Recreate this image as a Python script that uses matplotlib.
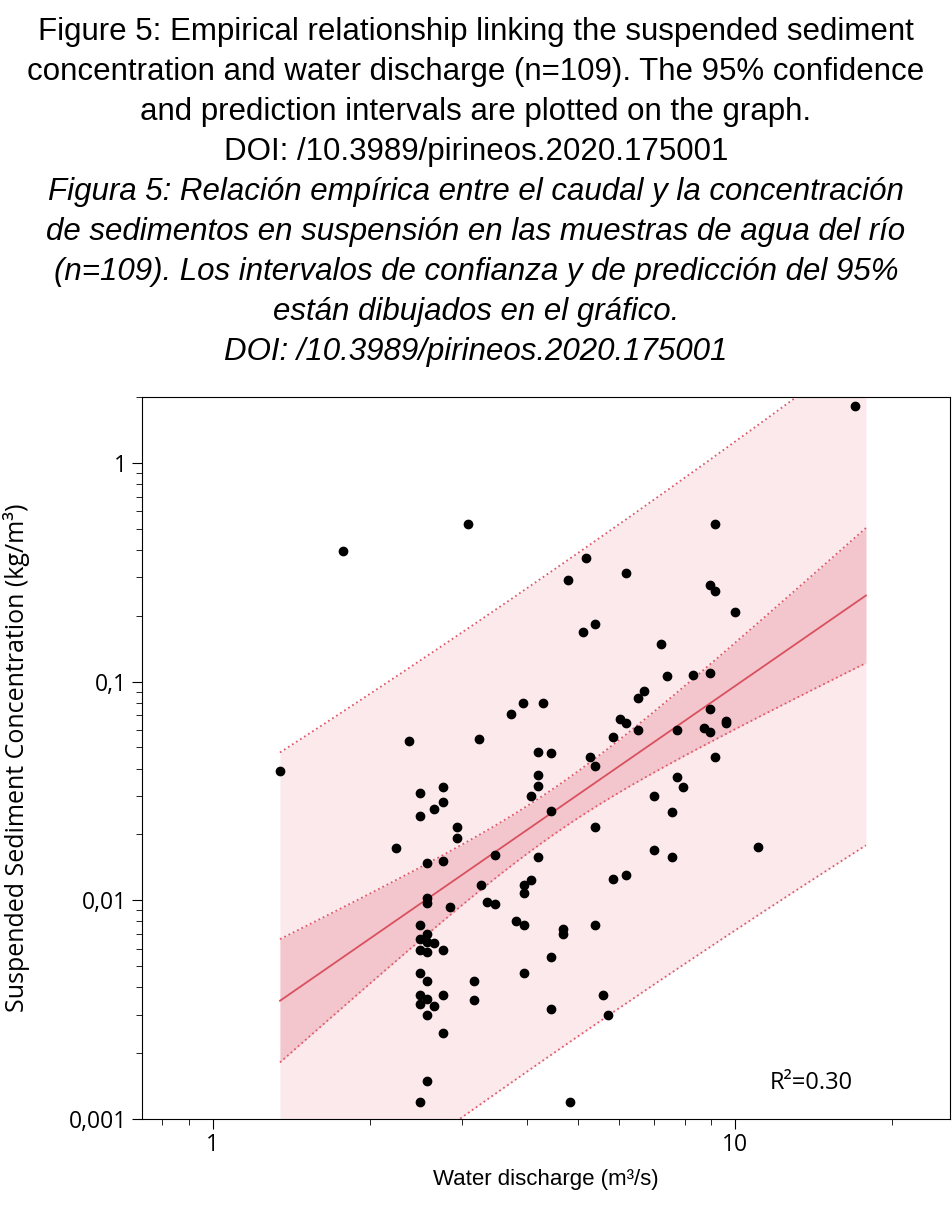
import numpy as np
import matplotlib
matplotlib.use("Agg")
import matplotlib.pyplot as plt
from matplotlib.ticker import FixedLocator, FixedFormatter, NullFormatter, LogLocator

# discharge (m3/s) and suspended sediment concentration (kg/m3)
discharge = [
    2.374, 3.233, 4.195, 4.443, 5.275, 5.392, 5.839, 4.195, 4.195, 4.067,
    4.443, 2.493, 2.758, 2.758, 2.651, 2.493, 2.934, 2.934, 2.242, 2.570,
    2.758, 3.470, 4.195, 5.392, 5.839, 6.184, 3.262, 3.943, 4.067, 3.943,
    2.570, 2.570, 2.844, 3.349, 3.470, 3.806, 3.943, 4.683, 4.683, 5.392,
    2.493, 2.570, 2.493, 2.570, 2.651, 2.493, 2.570, 2.758, 4.443, 2.493,
    2.570, 3.162, 3.943, 2.493, 2.570, 2.758, 2.651, 2.493, 2.570, 3.162,
    4.443, 5.586, 5.711, 2.758, 2.570, 2.493, 4.830,
    1.344, 1.774, 3.080, 3.724, 3.925, 4.289,
    5.183, 4.786, 6.184, 8.957, 9.157, 10.0, 5.114, 5.392, 7.216, 7.405,
    8.307, 8.957, 6.695, 6.520, 8.957, 6.022, 6.184, 6.520, 7.740, 8.720,
    8.957, 9.612, 9.612, 9.157, 7.740, 7.948, 6.997, 7.570, 6.997, 7.570,
    11.07, 16.98, 9.157,
]
ssc = [
    0.0534, 0.0546, 0.0476, 0.0471, 0.0451, 0.0410, 0.0557, 0.0373, 0.0333, 0.0299,
    0.0255, 0.0309, 0.0329, 0.0281, 0.0261, 0.0242, 0.0216, 0.0192, 0.0173, 0.0148,
    0.0151, 0.0161, 0.0157, 0.0216, 0.0125, 0.0130, 0.0118, 0.0118, 0.0124, 0.0108,
    0.0102, 0.00969, 0.00929, 0.00979, 0.00959, 0.00802, 0.00769, 0.00737, 0.00699, 0.00769,
    0.00769, 0.00699, 0.00663, 0.00643, 0.00636, 0.00590, 0.00578, 0.00590, 0.00548, 0.00463,
    0.00426, 0.00426, 0.00463, 0.00367, 0.00352, 0.00367, 0.00327, 0.00334, 0.00298, 0.00348,
    0.00317, 0.00367, 0.00298, 0.00246, 0.00149, 0.00119, 0.00119,
    0.0389, 0.396, 0.526, 0.0710, 0.0798, 0.0798,
    0.367, 0.292, 0.314, 0.277, 0.260, 0.208, 0.169, 0.183, 0.149, 0.106,
    0.107, 0.109, 0.0905, 0.0840, 0.0748, 0.0673, 0.0646, 0.060, 0.060, 0.0612,
    0.0587, 0.0659, 0.0646, 0.0451, 0.0366, 0.0329, 0.0299, 0.0253, 0.0169, 0.0157,
    0.0175, 1.82, 0.526,
]

# fitted power law (log10 space) and interval parameters
slope = 1.652
intercept = -2.672
mean_logx = 0.66
sxx = 5.0
n_obs = 109
ts = 1.10
x_range = (1.344, 17.8)

title_en = [
    "Figure 5: Empirical relationship linking the suspended sediment",
    "concentration and water discharge (n=109). The 95% confidence",
    "and prediction intervals are plotted on the graph.",
    "DOI: /10.3989/pirineos.2020.175001",
]
title_es = [
    "Figura 5: Relación empírica entre el caudal y la concentración",
    "de sedimentos en suspensión en las muestras de agua del río",
    "(n=109). Los intervalos de confianza y de predicción del 95%",
    "están dibujados en el gráfico.",
    "DOI: /10.3989/pirineos.2020.175001",
]

lx = np.linspace(np.log10(x_range[0]), np.log10(x_range[1]), 200)
fit = intercept + slope * lx
lev = 1.0 / n_obs + (lx - mean_logx) ** 2 / sxx
ci = ts * np.sqrt(lev)
pi = ts * np.sqrt(1 + lev)
xs = 10 ** lx

fig = plt.figure(figsize=(9.52, 12.07), dpi=100)
ax = fig.add_axes([0.149, 0.073, 0.849, 0.598])

ax.fill_between(xs, 10 ** (fit - pi), 10 ** (fit + pi), color="#fbe9ec", lw=0)
ax.fill_between(xs, 10 ** (fit - ci), 10 ** (fit + ci), color="#f3c6cd", lw=0)
for sign in (-1, 1):
    ax.plot(xs, 10 ** (fit + sign * pi), ":", color="#e05a6a", lw=1.3)
    ax.plot(xs, 10 ** (fit + sign * ci), ":", color="#e05a6a", lw=1.3)
ax.plot(xs, 10 ** fit, color="#d9505e", lw=1.3)
ax.scatter(discharge, ssc, s=36, color="black", zorder=5)

ax.set_xscale("log")
ax.set_yscale("log")
ax.set_xlim(0.731, 25.8)
ax.set_ylim(0.001, 2.0)

ax.xaxis.set_major_locator(FixedLocator([1, 10]))
ax.xaxis.set_major_formatter(FixedFormatter(["1", "10"]))
ax.xaxis.set_minor_locator(LogLocator(subs=np.arange(2, 10)))
ax.xaxis.set_minor_formatter(NullFormatter())
ax.yaxis.set_major_locator(FixedLocator([0.001, 0.01, 0.1, 1]))
ax.yaxis.set_major_formatter(FixedFormatter(["0,001", "0,01", "0,1", "1"]))
ax.yaxis.set_minor_locator(LogLocator(subs=np.arange(2, 10)))
ax.yaxis.set_minor_formatter(NullFormatter())
ax.tick_params(which="major", length=7, labelsize=16.5)
ax.tick_params(which="minor", length=4)
for lab in ax.get_xticklabels() + ax.get_yticklabels():
    lab.set_family("Open Sans")

ax.set_xlabel("Water discharge (m³/s)", fontsize=16, family="Liberation Sans", labelpad=8)
ax.set_ylabel("Suspended Sediment Concentration (kg/m³)", fontsize=18,
              family="Open Sans", labelpad=28)
ax.text(0.88, 0.05, "R²=0.30", transform=ax.transAxes, ha="right", va="center",
        fontsize=17, family="Open Sans")

# title: one line every 40 px
for i, line in enumerate(title_en + title_es):
    style = "normal" if i < len(title_en) else "italic"
    fig.text(0.5, 1 - (32 + 40 * i) / 1207, line, ha="center", va="center",
             fontsize=22.5, family="Liberation Sans", style=style)

fig.savefig("out.png", dpi=100)
